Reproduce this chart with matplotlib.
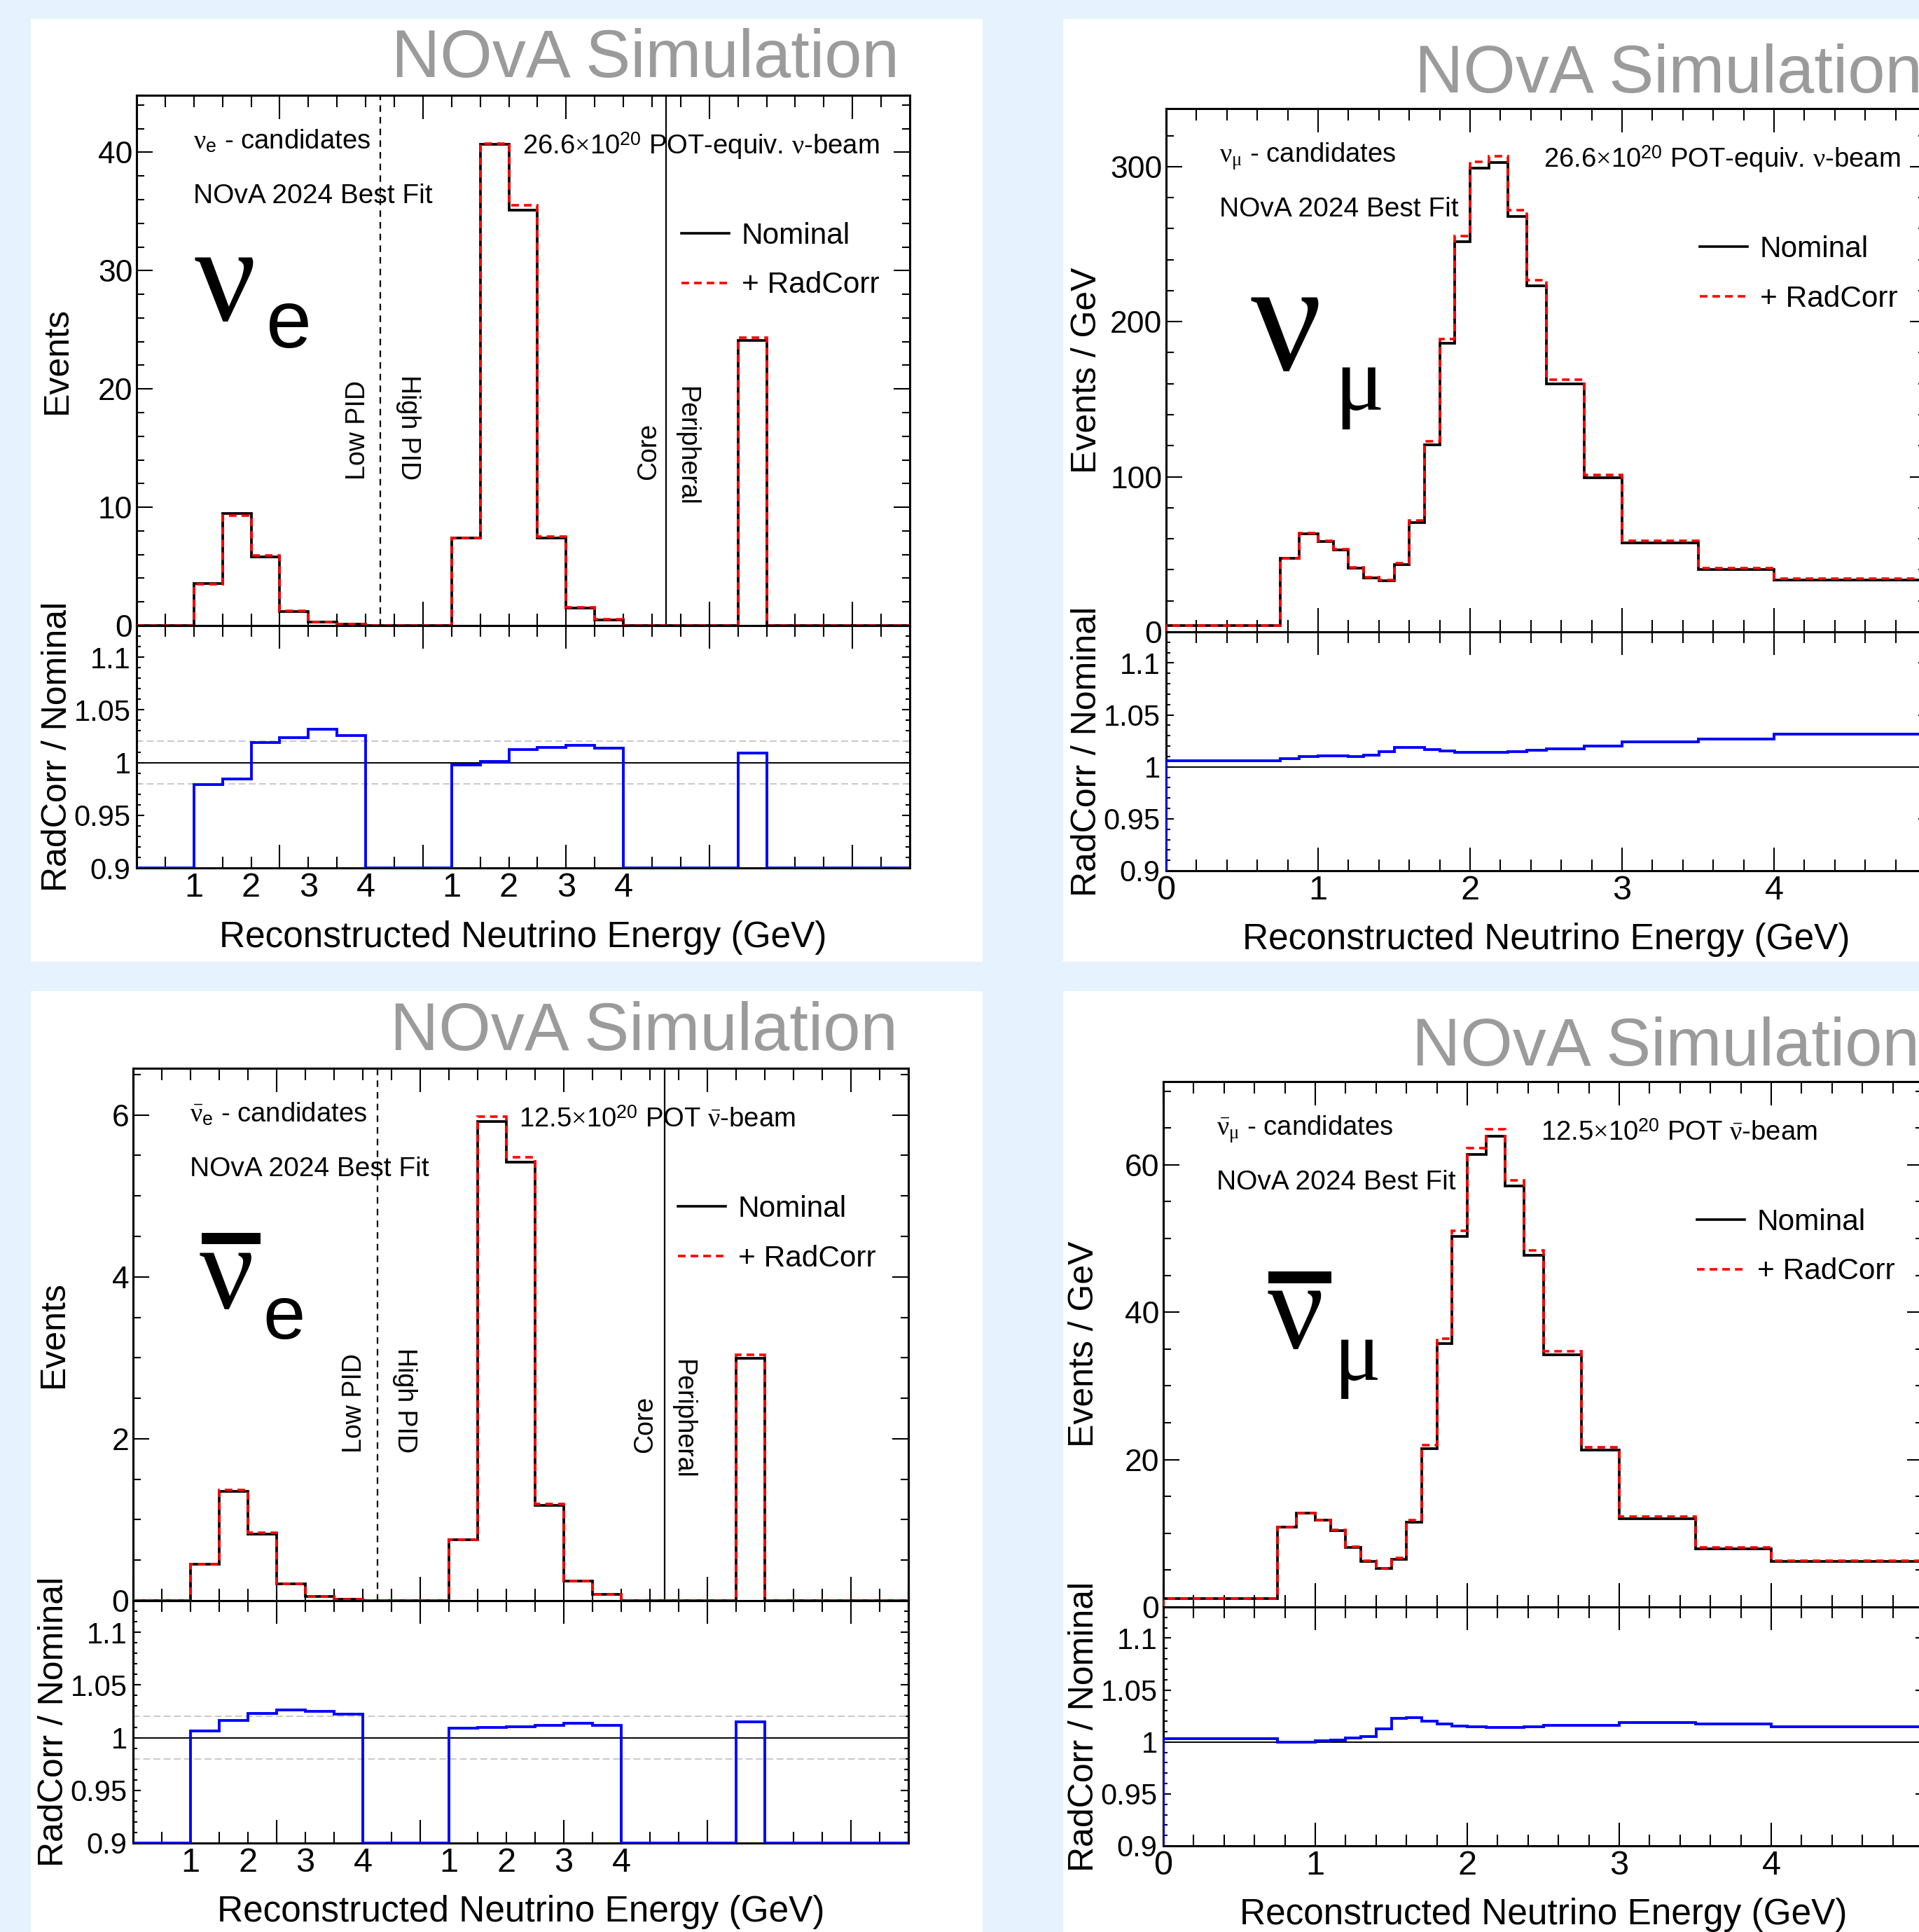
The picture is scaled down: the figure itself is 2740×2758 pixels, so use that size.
import numpy as np
import matplotlib
matplotlib.use("Agg")
import matplotlib.pyplot as plt
import matplotlib.transforms as mtransforms
from matplotlib.patches import Rectangle
from matplotlib.lines import Line2D
from matplotlib.ticker import MultipleLocator, FormatStrFormatter, NullFormatter, FuncFormatter

plt.rcParams['font.family'] = ['Liberation Sans', 'DejaVu Sans']
plt.rcParams['mathtext.fontset'] = 'custom'
plt.rcParams['mathtext.rm'] = 'Liberation Serif'
plt.rcParams['mathtext.sf'] = 'Liberation Sans'
plt.rcParams['mathtext.it'] = 'Liberation Serif:italic'
plt.rcParams['mathtext.bf'] = 'Liberation Serif:bold'
plt.rcParams['mathtext.default'] = 'rm'

# ---- nue / nuebar: 27 display bins (Low PID | High PID | Peripheral) ----
nue_edges = np.arange(28)
nue_nominal = [0, 0, 3.55, 9.45, 5.8, 1.2, 0.3, 0.13, 0, 0, 0,
               7.4, 40.7, 35.1, 7.4, 1.5, 0.5, 0, 0, 0, 0,
               24.1, 0, 0, 0, 0, 0]
nue_ratio = [0, 0, 0.979, 0.9846, 1.0189, 1.0238, 1.0313, 1.0255, 0, 0, 0,
             0.9979, 1.0012, 1.0126, 1.0145, 1.0161, 1.014, 0, 0, 0, 0,
             1.0093, 0, 0, 0, 0, 0]
nuebar_nominal = [0, 0, 0.45, 1.35, 0.82, 0.205, 0.053, 0.02, 0, 0, 0,
                  0.75, 5.92, 5.42, 1.18, 0.24, 0.08, 0, 0, 0, 0,
                  2.99, 0, 0, 0, 0, 0]
nuebar_ratio = [0, 0, 1.0065, 1.016, 1.023, 1.026, 1.025, 1.022, 0, 0, 0,
                1.009, 1.010, 1.0106, 1.012, 1.0135, 1.012, 0, 0, 0, 0,
                1.0147, 0, 0, 0, 0, 0]
nue_tick_pos = [2, 4, 6, 8, 11, 13, 15, 17]
nue_tick_labels = ['1', '2', '3', '4', '1', '2', '3', '4']
pid_cut = 8.5
core_cut = 18.5

# ---- numu / numubar: events / GeV ----
numu_edges = [0, 0.75, 0.875, 1.0, 1.1, 1.2, 1.3, 1.4, 1.5, 1.6, 1.7, 1.8,
              1.9, 2.0, 2.125, 2.25, 2.375, 2.5, 2.75, 3.0, 3.5, 4.0, 5.0]
numu_nominal = [4.0, 47.2, 63.1, 58.3, 52.8, 41.3, 34.9, 32.9, 43.3, 70.6,
                120.6, 186, 251.6, 298.8, 302.4, 267.9, 223, 160, 99.2,
                57.5, 40.1, 33.3]
numu_ratio = [1.0062, 1.0079, 1.0100, 1.0107, 1.0104, 1.0102, 1.0110, 1.0145,
              1.0186, 1.0186, 1.0169, 1.0152, 1.0143, 1.0143, 1.0143, 1.0148,
              1.0160, 1.0174, 1.0200, 1.0240, 1.0269, 1.0317]
numubar_nominal = [1.17, 10.8, 12.7, 11.8, 10.4, 8.1, 6.2, 5.2, 6.5, 11.5,
                   21.5, 35.75, 50.3, 61.4, 63.9, 57.1, 47.7, 34.2, 21.3,
                   12.0, 7.9, 6.2]
numubar_ratio = [1.0030, 0.9995, 0.9998, 1.0015, 1.0020, 1.0036, 1.0054,
                 1.0127, 1.0225, 1.0232, 1.0199, 1.0175, 1.0155, 1.0148,
                 1.0143, 1.0139, 1.0145, 1.0157, 1.0163, 1.0187, 1.0175,
                 1.0145]

W, H = 2740, 2758
fig = plt.figure(figsize=(W / 100, H / 100), dpi=100, facecolor='#e6f2fe')


def box(l, t, r, b):
    return [l / W, 1 - b / H, (r - l) / W, (b - t) / H]


def fx(x):
    return x / W


def fy(y):
    return 1 - y / H


# white panels
for (l, t, r, b) in [(44, 27, 1403, 1373), (1518, 27, 2760, 1373),
                     (44, 1415, 1403, 2770), (1518, 1415, 2760, 2770)]:
    fig.patches.append(Rectangle((fx(l), fy(b)), (r - l) / W, (b - t) / H,
                                 transform=fig.transFigure, facecolor='white',
                                 edgecolor='none', zorder=-5))


def style_axes(ax, xmaj, xmin, ymaj, ymin):
    for s in ax.spines.values():
        s.set_linewidth(2.2)
    ax.tick_params(which='both', direction='in', top=True, right=True, width=1.5)
    ax.tick_params(axis='x', which='major', length=xmaj)
    ax.tick_params(axis='x', which='minor', length=xmin)
    ax.tick_params(axis='y', which='major', length=ymaj)
    ax.tick_params(axis='y', which='minor', length=ymin)


def draw_panel(geo, edges, nominal, ratio, ystep, ysub, ylabel, nue):
    l, r, t, m, b = geo
    ax = fig.add_axes(box(l, t, r, m))
    axr = fig.add_axes(box(l, m, r, b))
    ax.set_facecolor('none')
    axr.set_facecolor('none')
    nom = np.asarray(nominal, float)
    rat = np.asarray(ratio, float)
    rad = nom * rat

    ax.stairs(nom, edges, color='black', lw=2.7, zorder=3)
    ax.stairs(rad, edges, color='red', lw=2.6, linestyle=(0, (3, 2)), zorder=4)
    ax.set_xlim(edges[0], edges[-1])
    ax.set_ylim(0, 1.1 * max(nom.max(), rad.max()))

    axr.stairs(np.maximum(rat, 0.9), edges, baseline=0.9, color='blue',
               lw=2.8, zorder=4)
    axr.axhline(1.0, color='black', lw=1.4, zorder=3)
    axr.set_xlim(edges[0], edges[-1])
    axr.set_ylim(0.9, 1.13)

    style_axes(ax, 24.5, 12, 16.5, 8)
    style_axes(axr, 24, 11.5, 8, 4.3)

    ax.yaxis.set_major_locator(MultipleLocator(ystep))
    ax.yaxis.set_minor_locator(MultipleLocator(ysub))
    ax.yaxis.set_major_formatter(FormatStrFormatter('%g'))
    ax.tick_params(axis='y', labelsize=32, pad=4)
    ax.tick_params(axis='x', labelbottom=False)
    axr.yaxis.set_major_locator(MultipleLocator(0.05))
    axr.yaxis.set_minor_locator(MultipleLocator(0.01))
    axr.yaxis.set_major_formatter(FormatStrFormatter('%g'))
    axr.tick_params(axis='y', labelsize=30, pad=6)

    if nue:
        for a in (ax, axr):
            a.xaxis.set_major_locator(MultipleLocator(5))
            a.xaxis.set_minor_locator(MultipleLocator(1))
            a.xaxis.set_major_formatter(NullFormatter())
        trans = mtransforms.blended_transform_factory(axr.transData, fig.transFigure)
        for xp, lab in zip(nue_tick_pos, nue_tick_labels):
            fig.text(xp, fy(b + 6), lab, transform=trans, ha='center', va='top',
                     fontsize=35)
        for yv in (1.02, 0.98):
            axr.axhline(yv, color='#c8c8c8', lw=1.4, linestyle=(0, (5, 2.5)), zorder=2)
        ax.axvline(pid_cut, color='black', lw=1.6, linestyle=(0, (4.2, 3.3)), zorder=2)
        ax.axvline(core_cut, color='black', lw=1.6, zorder=2)
    else:
        for a in (ax, axr):
            a.xaxis.set_major_locator(MultipleLocator(1))
            a.xaxis.set_minor_locator(MultipleLocator(0.2))
        axr.xaxis.set_major_formatter(
            FuncFormatter(lambda v, p: '%g' % v if v < 4.5 else ''))
        axr.tick_params(axis='x', labelsize=35, pad=4)

    fig.text(fx(l - 113), fy((t + m) / 2), ylabel, rotation=90, ha='center',
             va='center', fontsize=36)
    fig.text(fx(l - 113), fy((m + b) / 2), 'RadCorr / Nominal', rotation=90,
             ha='center', va='center', fontsize=36)
    fig.text(fx((l + r) / 2), fy(b + 99), 'Reconstructed Neutrino Energy (GeV)',
             ha='center', va='center', fontsize=37)

    handles = [Line2D([], [], color='black', lw=2.6),
               Line2D([], [], color='red', lw=2.6, linestyle=(0, (3, 2)))]
    return ax, axr, handles


def add_texts(geo, cand, pot, nue):
    l, r, t, m, b = geo
    dx = 81 if nue else 76
    px = 551 if nue else 539
    lx = 778 if nue else 762
    fig.text(fx(l + dx), fy(t + 77), cand, fontsize=27.5, va='baseline')
    fig.text(fx(l + dx), fy(t + 154), 'NOvA 2024 Best Fit', fontsize=28, va='baseline')
    fig.text(fx(l + px), fy(t + 84), pot, fontsize=27.5, va='baseline')
    fig.text(fx(r - (15 if nue else 5)), fy(t - (26 if nue else 23)),
             'NOvA Simulation', fontsize=69, color='#9b9b9b', ha='right',
             va='baseline')
    return lx


def add_legend(ax, geo, handles, lx):
    l, r, t, m, b = geo
    ax.legend(handles, ['Nominal', '+ RadCorr'], loc='upper left',
              bbox_to_anchor=(fx(l + lx), fy(t + 181)), bbox_transform=fig.transFigure,
              frameon=False, fontsize=30.5, handlelength=1.6, handletextpad=0.43,
              labelspacing=0.72, borderpad=0, borderaxespad=0)


def add_region_labels(geo):
    l, r, t, m, b = geo
    fig.text(fx(l + 316), fy(t + 549), 'Low PID', rotation=90, ha='center',
             va='bottom', fontsize=27)
    fig.text(fx(l + 388), fy(t + 549), 'High PID', rotation=270, ha='center',
             va='bottom', fontsize=27)
    fig.text(fx(l + 731), fy(t + 549), 'Core', rotation=90, ha='center',
             va='bottom', fontsize=27)
    fig.text(fx(l + 785), fy(t + 416), 'Peripheral', rotation=270, ha='center',
             va='top', fontsize=27)


def big_label(nu_x, nu_y, nu_size, sub, sub_x, sub_y, sub_size, sub_serif, bar=None):
    fig.text(fx(nu_x), fy(nu_y), '\u03bd', fontsize=nu_size, fontfamily='Liberation Serif',
             va='baseline', ha='left')
    fig.text(fx(sub_x), fy(sub_y), sub, fontsize=sub_size,
             fontfamily='Liberation Serif' if sub_serif else 'Liberation Sans',
             va='baseline', ha='left')
    if bar is not None:
        x0, x1, y0, y1 = bar
        fig.patches.append(Rectangle((fx(x0), fy(y1)), (x1 - x0) / W, (y1 - y0) / H,
                                     transform=fig.transFigure, facecolor='black',
                                     edgecolor='none', zorder=5))


# panel geometry in pixels: left, right, top, split, bottom
g_tl = (195, 1299, 136, 893, 1239)
g_tr = (1665, 2750, 155, 902, 1243)
g_bl = (190, 1297, 1525, 2285, 2631)
g_br = (1661, 2746, 1544, 2294, 2635)

# nue FHC
ax, axr, hd = draw_panel(g_tl, nue_edges, nue_nominal, nue_ratio, 10, 2, 'Events', True)
lx = add_texts(g_tl, r'$\nu_{\mathsf{e}}$ - candidates',
               r'26.6$\times$10$^{\mathsf{20}}$ POT-equiv. $\nu$-beam', True)
add_legend(ax, g_tl, hd, lx)
add_region_labels(g_tl)
big_label(278, 457, 140, 'e', 380, 496, 84, False)

# numu FHC
ax, axr, hd = draw_panel(g_tr, numu_edges, numu_nominal, numu_ratio, 100, 20,
                         'Events / GeV', False)
lx = add_texts(g_tr, r'$\nu_{\mu}$ - candidates',
               r'26.6$\times$10$^{\mathsf{20}}$ POT-equiv. $\nu$-beam', False)
add_legend(ax, g_tr, hd, lx)
big_label(1786, 528, 162, '\u03bc', 1905, 585, 95, True)

# nuebar RHC
ax, axr, hd = draw_panel(g_bl, nue_edges, nuebar_nominal, nuebar_ratio, 2, 0.5, 'Events', True)
lx = add_texts(g_bl, r'$\bar{\nu}_{\mathsf{e}}$ - candidates',
               r'12.5$\times$10$^{\mathsf{20}}$ POT $\bar{\nu}$-beam', True)
add_legend(ax, g_bl, hd, lx)
add_region_labels(g_bl)
big_label(285, 1867, 124, 'e', 375, 1911, 78, False, bar=(288, 372, 1760, 1776))

# numubar RHC
ax, axr, hd = draw_panel(g_br, numu_edges, numubar_nominal, numubar_ratio, 20, 5,
                         'Events / GeV', False)
lx = add_texts(g_br, r'$\bar{\nu}_{\mu}$ - candidates',
               r'12.5$\times$10$^{\mathsf{20}}$ POT $\bar{\nu}$-beam', False)
add_legend(ax, g_br, hd, lx)
big_label(1810, 1924, 128, '\u03bc', 1905, 1970, 90, True, bar=(1811, 1901, 1815, 1832))

fig.savefig('out.png', dpi=100, facecolor=fig.get_facecolor())
